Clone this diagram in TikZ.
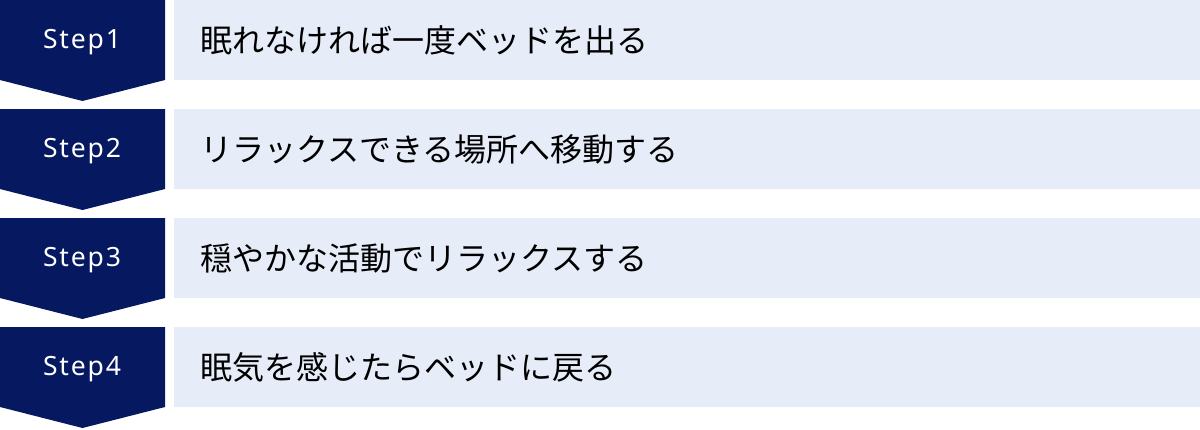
\documentclass[tikz,border=0pt]{standalone}
\usepackage{fontspec}
\setmainfont{Noto Sans}
\newfontfamily\jpfont{Noto Sans CJK JP}
\newfontfamily\stepfont[LetterSpace=7]{Noto Sans}
\definecolor{navy}{HTML}{051860}
\definecolor{lightbg}{HTML}{E6ECF8}
\tikzset{
  stepshape/.style={fill=navy, draw=none},
  barbox/.style={fill=lightbg, draw=none},
  steplabel/.style={text=white, font=\stepfont\fontsize{26.5}{30}\selectfont, inner sep=0pt, anchor=base},
  bartext/.style={text=black, font=\jpfont\fontsize{32}{38}\selectfont, inner sep=0pt, anchor=west}
}
\begin{document}
\begin{tikzpicture}[x=1pt,y=-1pt]
\useasboundingbox (0,0) rectangle (1200,429);
\foreach \i/\txt in {0/眠れなければ一度ベッドを出る,1/リラックスできる場所へ移動する,2/穏やかな活動でリラックスする,3/眠気を感じたらベッドに戻る}{
  \pgfmathsetmacro{\yt}{\i*109}
  \pgfmathtruncatemacro{\n}{\i+1}
  \fill[stepshape] (0,\yt) -- (165,\yt) -- (165,\yt+80) -- (82.5,\yt+101) -- (0,\yt+80) -- cycle;
  \fill[barbox] (174,\yt) rectangle (1200,\yt+80);
  \node[steplabel] (s\n) at (82,\yt+48) {Step\n};
  \node[bartext] (t\n) at (200,\yt+40) {\txt};
}
\end{tikzpicture}
\end{document}
